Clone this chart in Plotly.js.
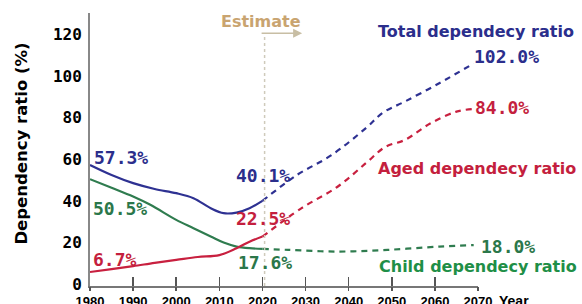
<!DOCTYPE html>
<html><head><meta charset="utf-8">
<script src="https://cdn.plot.ly/plotly-3.0.1.min.js"></script>
<style>html,body{margin:0;padding:0;background:#fff;overflow:hidden}#chart{width:582px;height:304px}</style>
</head><body><div id="chart"></div>
<script>
// ---- data ----
const obsYearsTotal = [1980,1985,1990,1995,2000,2004,2008,2011,2014,2017,2020];
const obsTotal      = [57.3,52.5,48.6,45.8,43.8,41.4,36.6,34.2,34.5,36.6,40.1];
const obsYearsChild = [1980,1985,1990,1994,2000,2004,2008,2011,2014,2017,2020];
const obsChild      = [50.5,46.4,42.2,38.2,31.0,27.0,23.0,20.1,18.2,17.4,17.1];
const obsYearsAged  = [1980,1985,1990,1995,2000,2005,2010,2014,2017,2020];
const obsAged       = [6.0,7.4,8.8,10.4,11.8,13.2,14.1,17.4,20.5,23.0];

const estYearsTotal = [2020,2028,2036,2044,2048,2053,2061,2069];
const estTotal      = [40.1,52.5,62.0,75.0,82.5,87.7,96.5,106.0];
const estYearsAged  = [2020,2029,2037.5,2044,2048.5,2053,2059,2065,2069];
const estAged       = [23.0,36.5,47.0,58.2,66.0,69.3,77.3,82.9,84.2];
const estYearsChild = [2020,2026,2037.5,2049,2061,2069];
const estChild      = [17.1,16.6,15.8,16.6,18.2,18.9];

const xTicks = [1980,1990,2000,2010,2020,2030,2040,2050,2060,2070];
const yTicks = [0,20,40,60,80,100,120];

const valueLabels  = ['57.3%','50.5%','6.7%','40.1%','22.5%','17.6%','102.0%','84.0%','18.0%'];
const valueLabelX  = [1980.7,1980.4,1980.5,2013.6,2013.6,2014.2,2068.8,2069.0,2070.5];
const valueLabelY  = [61.0,36.5,12.1,52.5,31.7,10.5,109.3,85.1,18.1];
const valueLabelC  = ['total','child','aged','total','aged','child','total','aged','child'];

const seriesNames  = ['Total dependecy ratio','Aged dependecy ratio','Child dependecy ratio'];
const seriesNameX  = [2046.5,2046.5,2046.7];
const seriesNameY  = [121.2,55.7,8.5];
const seriesNameC  = ['total','aged','childName'];

const colors = {total:'#2b2e8c', aged:'#c41f3e', child:'#2b774a', childName:'#1f8f47'};
const lineColors = {total:'#2e3192', aged:'#c8203f', child:'#2f7c4f'};

const X0 = 1980, X1 = 2070;
const toPaperX = yr => (yr - X0) / (X1 - X0);

function line(x,y,c,dashed){
  return {x:x,y:y,type:'scatter',mode:'lines',hoverinfo:'skip',showlegend:false,
    line:{color:lineColors[c],width:2.2,shape:'spline',smoothing:1,dash:dashed?'6px,5px':'solid'}};
}
const data = [
  line(obsYearsTotal,obsTotal,'total',false),
  line(obsYearsChild,obsChild,'child',false),
  line(obsYearsAged,obsAged,'aged',false),
  line(estYearsTotal,estTotal,'total',true),
  line(estYearsAged,estAged,'aged',true),
  line(estYearsChild,estChild,'child',true)
];

const numFont = 'DejaVu Sans Mono, monospace';
const nameFont = 'DejaVu Sans, sans-serif';
const annotations = [];
valueLabels.forEach((t,i)=>annotations.push({x:toPaperX(valueLabelX[i]),y:valueLabelY[i],xref:'paper',yref:'y',
  text:t,showarrow:false,xanchor:'left',yanchor:'middle',borderpad:0,
  font:{family:numFont,size:18,weight:'bold',color:colors[valueLabelC[i]]}}));
seriesNames.forEach((t,i)=>annotations.push({x:toPaperX(seriesNameX[i]),y:seriesNameY[i],xref:'paper',yref:'y',
  text:t,showarrow:false,xanchor:'left',yanchor:'middle',borderpad:0,
  font:{family:nameFont,size:16,weight:'bold',color:colors[seriesNameC[i]]}}));
annotations.push({x:toPaperX(2010.2),y:126,xref:'paper',yref:'y',text:'Estimate',showarrow:false,xanchor:'left',yanchor:'middle',
  borderpad:0,font:{family:nameFont,size:16,weight:'bold',color:'#c9a470'}});
annotations.push({x:2029.2,y:120.5,xref:'x',yref:'y',text:'',showarrow:true,ax:-42,ay:0,
  arrowcolor:'#c8bea4',arrowwidth:1.5,arrowhead:2,arrowsize:1.2,standoff:0});
annotations.push({x:toPaperX(2074.4),y:0,xref:'paper',yref:'paper',yshift:-15,text:'Year',showarrow:false,xanchor:'left',yanchor:'middle',
  font:{family:'Liberation Sans, Arial, sans-serif',size:14,weight:'bold',color:'#000'}});
annotations.push({x:-0.179,y:0.52,xref:'paper',yref:'paper',text:'Dependency ratio (%)',textangle:-90,showarrow:false,
  xanchor:'center',yanchor:'middle',font:{family:nameFont,size:16.5,weight:'bold',color:'#000'}});

const layout = {
  width:582,height:304,margin:{l:90,r:104,t:13,b:18},
  paper_bgcolor:'#fff',plot_bgcolor:'#fff',showlegend:false,
  xaxis:{range:[X0,X1],tickvals:xTicks,ticktext:xTicks.map(String),ticks:'inside',ticklen:9,tickwidth:1.5,
    tickcolor:'#555',showline:true,linecolor:'#777',linewidth:1.5,showgrid:false,zeroline:false,
    ticklabelstandoff:3,tickfont:{family:'Liberation Sans, Arial, sans-serif',size:13,weight:'bold',color:'#000'}},
  xaxis2:{overlaying:'x',matches:'x',anchor:'y',side:'bottom',tickvals:xTicks,ticks:'outside',ticklen:4,tickwidth:1.5,
    tickcolor:'#555',showticklabels:false,showline:false,showgrid:false,zeroline:false},
  yaxis:{range:[-0.72,130.2],tickvals:yTicks,ticktext:yTicks.map(String),ticks:'',showline:true,linecolor:'#888',linewidth:2,
    showgrid:false,zeroline:false,ticklabelstandoff:3,tickfont:{family:numFont,size:16,weight:'bold',color:'#000'}},
  shapes:[{type:'line',xref:'x',yref:'y',x0:2020.5,x1:2020.5,y0:-0.72,y1:119.7,
    line:{color:'#cfcabb',width:1.5,dash:'dot'}}],
  annotations:annotations
};
data.push({x:[2000],y:[null],xaxis:'x2',yaxis:'y',type:'scatter',mode:'lines',showlegend:false,hoverinfo:'skip'});
Plotly.newPlot('chart',data,layout,{staticPlot:true,displayModeBar:false});
</script></body></html>
